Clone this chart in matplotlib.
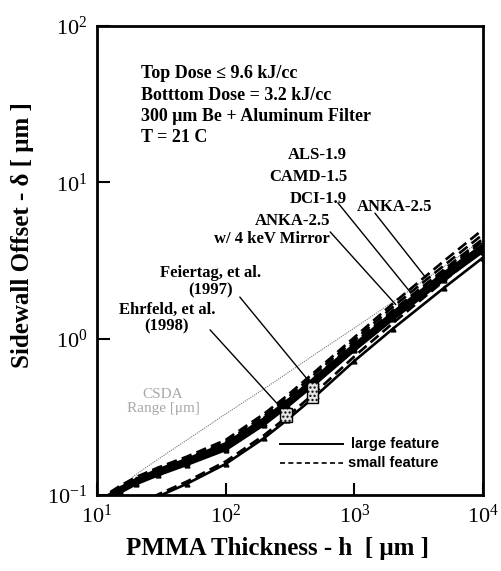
import matplotlib
matplotlib.use("Agg")
import matplotlib.pyplot as plt
from matplotlib.patches import Rectangle

plt.rcParams['font.family'] = 'Liberation Serif'
plt.rcParams['mathtext.fontset'] = 'stix'

# PMMA thickness h [um]
h = [10, 15, 20, 30, 50, 100, 200, 300, 500, 1000, 2000, 5000, 10000]

# sidewall offset [um], large feature (solid)
als_l = [0.085, 0.106, 0.120, 0.138, 0.160, 0.200, 0.290, 0.375, 0.53, 0.86, 1.37, 2.45, 3.70]
camd_l = [0.087, 0.108, 0.123, 0.142, 0.165, 0.207, 0.300, 0.388, 0.55, 0.89, 1.42, 2.55, 3.85]
dci_l = [0.083, 0.103, 0.117, 0.134, 0.156, 0.194, 0.282, 0.365, 0.515, 0.84, 1.33, 2.38, 3.60]
anka_l = [0.090, 0.111, 0.126, 0.146, 0.170, 0.214, 0.310, 0.400, 0.57, 0.92, 1.48, 2.65, 4.00]
mirror_l = [0.060, 0.073, 0.083, 0.098, 0.118, 0.158, 0.232, 0.302, 0.43, 0.72, 1.16, 2.12, 3.30]

# small feature (dashed)
als_s = [0.087, 0.108, 0.123, 0.142, 0.166, 0.210, 0.308, 0.400, 0.57, 0.94, 1.52, 2.78, 4.35]
camd_s = [0.089, 0.111, 0.126, 0.146, 0.171, 0.218, 0.320, 0.416, 0.60, 0.98, 1.60, 2.95, 4.65]
dci_s = [0.085, 0.105, 0.120, 0.138, 0.161, 0.204, 0.298, 0.388, 0.555, 0.91, 1.47, 2.70, 4.20]
anka_s = [0.092, 0.114, 0.130, 0.150, 0.176, 0.225, 0.332, 0.432, 0.62, 1.02, 1.68, 3.15, 5.00]
mirror_s = [0.062, 0.075, 0.086, 0.101, 0.122, 0.164, 0.242, 0.317, 0.455, 0.77, 1.26, 2.35, 3.70]

# CSDA range
csda_h = [10, 15, 20, 30, 50, 100, 200, 300, 500, 1000, 2000, 5000, 10000]
csda_d = [0.088, 0.110, 0.135, 0.170, 0.225, 0.33, 0.48, 0.60, 0.80, 1.17, 1.72, 2.9, 4.3]

# measured data (h range, offset range)
ehrfeld_h = [264, 327]
ehrfeld_d = [0.292, 0.36]
feiertag_h = [428, 521]
feiertag_d = [0.387, 0.527]

fig = plt.figure(figsize=(5.01, 5.71), dpi=100)
ax = fig.add_axes([0.1936, 0.1331, 0.7705, 0.8214])
ax.set_xscale('log')
ax.set_yscale('log')
ax.set_xlim(10, 1e4)
ax.set_ylim(0.1, 100)

ax.plot(csda_h, csda_d, color='#777777', lw=0.8, ls=(0, (1, 1)))

for y in [als_l, camd_l, dci_l, anka_l, mirror_l]:
    ax.plot(h, y, color='black', lw=1.9, marker='^', ms=3.5)
for y in [als_s, camd_s, dci_s, anka_s, mirror_s]:
    ax.plot(h, y, color='black', lw=1.9, ls=(0, (4, 2)))

for hh, dd in [(ehrfeld_h, ehrfeld_d), (feiertag_h, feiertag_d)]:
    ax.add_patch(Rectangle((hh[0], dd[0]), hh[1] - hh[0], dd[1] - dd[0],
                           facecolor='#e4e4e4', edgecolor='black', lw=1.0,
                           hatch='....', zorder=5))

# text block
ax.text(0.114, 0.830, 'Top Dose \u2264 9.6 kJ/cc\nBotttom Dose = 3.2 kJ/cc\n'
        '300 \u03bcm Be + Aluminum Filter\nT = 21 C',
        transform=ax.transAxes, fontsize=13, fontweight='bold', va='center',
        ha='left', linespacing=1.32)

bold = dict(transform=ax.transAxes, fontsize=12, fontweight='bold')
ax.text(0.648, 0.725, 'ALS-1.9', ha='right', va='center', **bold)
ax.text(0.648, 0.678, 'CAMD-1.5', ha='right', va='center', **bold)
ax.text(0.648, 0.631, 'DCI-1.9', ha='right', va='center', **bold)
ax.text(0.868, 0.614, 'ANKA-2.5', ha='right', va='center', **bold)
ax.text(0.604, 0.565, 'ANKA-2.5\nw/ 4 keV Mirror', ha='right', va='center',
        linespacing=1.1, **bold)
ax.text(0.293, 0.455, 'Feiertag, et al.\n(1997)', ha='center', va='center',
        linespacing=1.05, **bold)
ax.text(0.181, 0.378, 'Ehrfeld, et al.\n(1998)', ha='center', va='center',
        linespacing=1.05, **bold)
ax.text(0.171, 0.200, 'CSDA\nRange [\u03bcm]', ha='center', va='center',
        transform=ax.transAxes, fontsize=11, color='#a8a8a8', linespacing=1.1)

lead = dict(arrowstyle='-', lw=1.0, color='black', shrinkA=0, shrinkB=0)
for xy, xt in [((2100, 1.65), (0.604, 0.561)),
               ((2700, 2.0), (0.624, 0.623)),
               ((3600, 2.45), (0.720, 0.601)),
               ((450, 0.527), (0.370, 0.422)),
               ((270, 0.36), (0.293, 0.352))]:
    ax.annotate('', xy=xy, xycoords='data', xytext=xt,
                textcoords='axes fraction', arrowprops=lead)

# legend drawn by hand
ax.plot([0.474, 0.637], [0.109, 0.109], color='black', lw=1.4,
        transform=ax.transAxes)
ax.plot([0.474, 0.637], [0.068, 0.068], color='black', lw=1.2,
        ls=(0, (3, 2)), transform=ax.transAxes)
ax.text(0.658, 0.109, 'large feature', transform=ax.transAxes, va='center',
        fontsize=10.5, fontweight='bold', family='Liberation Sans')
ax.text(0.650, 0.068, 'small feature', transform=ax.transAxes, va='center',
        fontsize=10.5, fontweight='bold', family='Liberation Sans')

ax.tick_params(which='major', direction='in', length=9, width=1.5,
               labelsize=16, top=False, right=False, pad=7)
ax.tick_params(which='minor', length=0)
for s in ax.spines.values():
    s.set_linewidth(2)

fig.text(0.553, 0.040, 'PMMA Thickness - h  [ \u03bcm ]', ha='center',
         va='center', fontsize=18, fontweight='bold')
fig.text(0.044, 0.588, 'Sidewall Offset - \u03b4 [ \u03bcm ]', ha='center',
         va='center', fontsize=18, fontweight='bold', rotation=90)

fig.savefig('out.png', dpi=100)
